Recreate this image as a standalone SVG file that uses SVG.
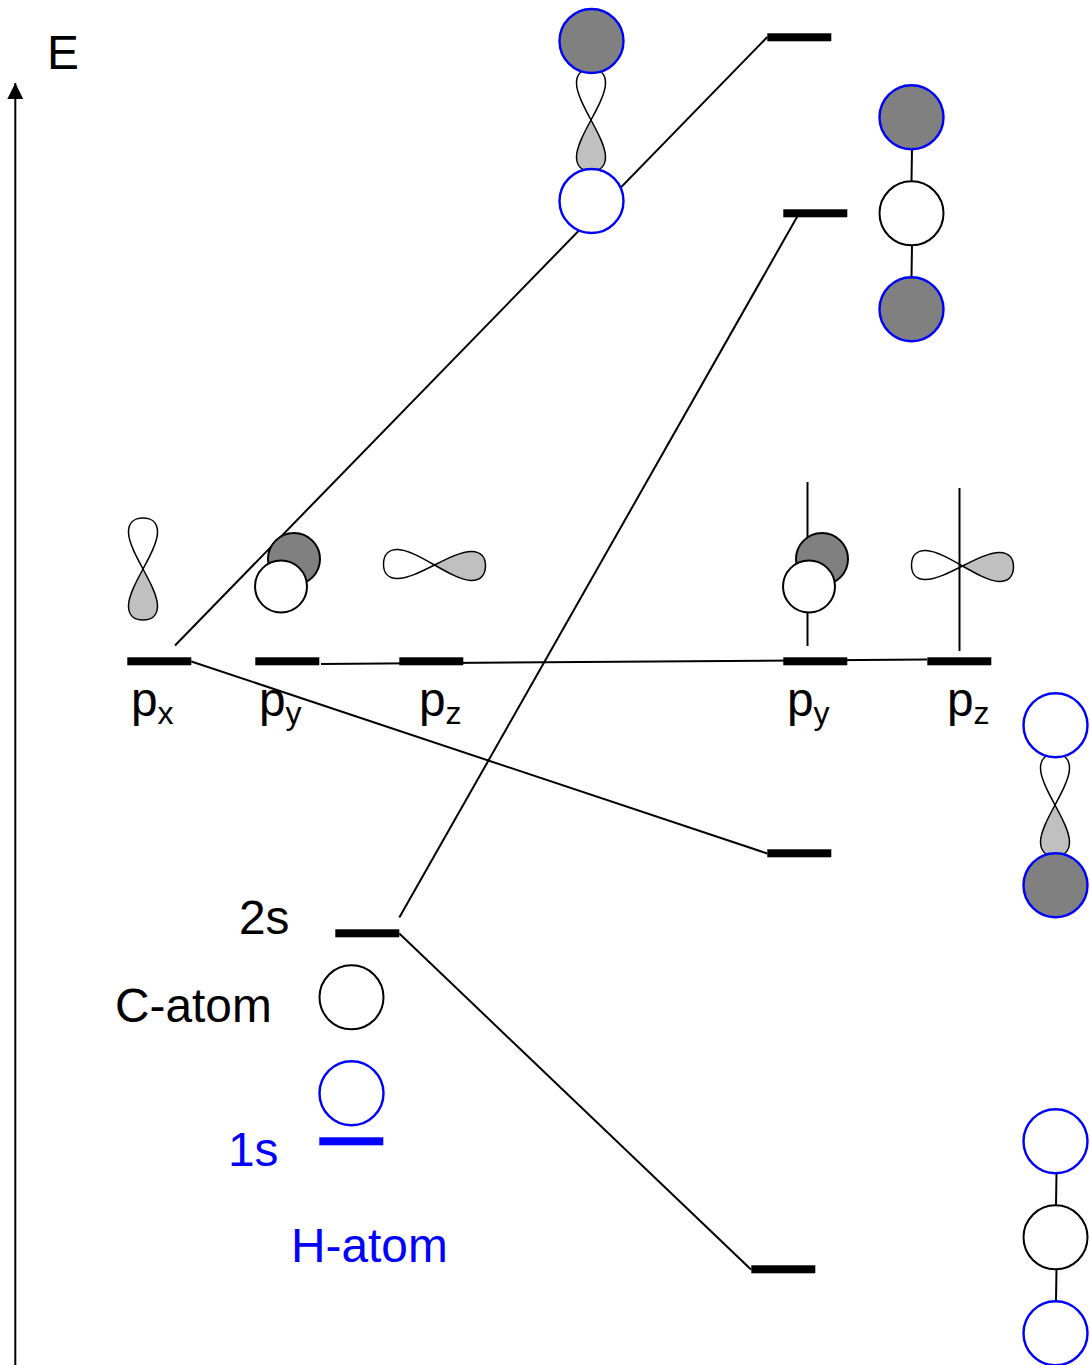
<svg xmlns="http://www.w3.org/2000/svg" xmlns:xlink="http://www.w3.org/1999/xlink" width="1090" height="1365" viewBox="0 0 1090 1365">
<style>
text{font-family:"Liberation Sans",Arial,sans-serif;font-size:47.800px;fill:#000}
tspan.s{font-size:32px}
.b{fill:#0000ff}
.lv{fill:#000}
.lvb{fill:#0000ff}
.c{fill:none;stroke:#000;stroke-width:2}
.ow{fill:#fff;stroke:#000;stroke-width:2}
.od{fill:#808080;stroke:#000;stroke-width:2}
.hw{fill:#fff;stroke:#0000ff;stroke-width:2.400}
.hd{fill:#808080;stroke:#0000ff;stroke-width:2.400}
.lu{fill:#fff;stroke:#000;stroke-width:1.500}
.ll{fill:#c0c0c0;stroke:#000;stroke-width:1.500}
</style>
<defs>
<g id="lobes">
<path class="lu" d="M0,0C-7,-13 -14.500,-27 -14.500,-37C-14.500,-46 -9,-51 0,-51C9,-51 14.500,-46 14.500,-37C14.500,-27 7,-13 0,0Z"/>
<path class="ll" d="M0,0C-7,13 -14.500,27 -14.500,37C-14.500,46 -9,51 0,51C9,51 14.500,46 14.500,37C14.500,27 7,13 0,0Z"/>
</g>
<marker id="arr" markerUnits="userSpaceOnUse" markerWidth="16" markerHeight="16" refX="16" refY="8" orient="auto"><path d="M0,0L16,8L0,16Z" fill="#000"/></marker>
</defs>
<g id="connectors">
<line class="c" x1="15.300" y1="1365" x2="15.300" y2="83" marker-end="url(#arr)"/>
<line class="c" x1="175" y1="645.500" x2="767.300" y2="37"/>
<line class="c" x1="399.300" y1="917.500" x2="799" y2="213.500"/>
<line class="c" x1="399.300" y1="933.500" x2="751" y2="1269.500"/>
<line class="c" x1="191.300" y1="661.500" x2="767.300" y2="853.500"/>
<line class="c" x1="321" y1="664" x2="927" y2="659.500"/>
<line class="c" x1="807.500" y1="482" x2="807.500" y2="646"/>
<line class="c" x1="912" y1="149" x2="911.500" y2="181"/>
<line class="c" x1="912" y1="245" x2="911.500" y2="277"/>
<line class="c" x1="1056.500" y1="1173" x2="1056" y2="1205"/>
<line class="c" x1="1056.500" y1="1269" x2="1056" y2="1301"/>
</g>
<g id="axis-label"><text x="47" y="69">E</text></g>
<g id="level-px"><rect class="lv" x="127.300" y="657.300" width="64" height="8"/><text x="131" y="716">p<tspan class="s" dy="8">x</tspan></text><use xlink:href="#lobes" href="#lobes" x="143" y="569"/></g>
<g id="level-py"><rect class="lv" x="255.300" y="657.300" width="64" height="8"/><text x="259" y="716">p<tspan class="s" dy="8">y</tspan></text><circle class="od" cx="294" cy="559" r="26"/><circle class="ow" cx="281" cy="586.500" r="26"/></g>
<g id="level-pz"><rect class="lv" x="399.300" y="657.300" width="64" height="8"/><text x="419" y="716">p<tspan class="s" dy="8">z</tspan></text><use xlink:href="#lobes" href="#lobes" transform="translate(434.500,565) rotate(-88.500)"/></g>
<g id="level-py2"><rect class="lv" x="783.300" y="657.300" width="64" height="8"/><text x="787" y="716">p<tspan class="s" dy="8">y</tspan></text><circle class="od" cx="822" cy="559" r="26"/><circle class="ow" cx="809" cy="586.500" r="26"/></g>
<g id="level-pz2"><use xlink:href="#lobes" href="#lobes" transform="translate(962.500,566) rotate(-88.500)"/><line class="c" x1="959.500" y1="488" x2="959.500" y2="651"/><rect class="lv" x="927.300" y="657.300" width="64" height="8"/><text x="947" y="716">p<tspan class="s" dy="8">z</tspan></text></g>
<g id="level-2s"><rect class="lv" x="335.300" y="929.300" width="64" height="8"/><text x="239" y="934">2s</text></g>
<g id="c-atom"><text x="115" y="1022">C-atom</text><circle class="ow" cx="351.500" cy="997.300" r="32"/></g>
<g id="h-1s"><circle class="hw" cx="351.500" cy="1093.300" r="32"/><rect class="lvb" x="319.300" y="1137.300" width="64" height="8"/><text class="b" x="228" y="1166">1s</text></g>
<g id="h-atom"><text class="b" x="291" y="1262">H-atom</text></g>
<g id="mo1"><rect class="lv" x="767.300" y="33.300" width="64" height="8"/><use xlink:href="#lobes" href="#lobes" x="591" y="120"/><circle class="hd" cx="591.500" cy="41" r="32"/><circle class="hw" cx="591.500" cy="201" r="32"/></g>
<g id="mo2"><rect class="lv" x="783.300" y="209.300" width="64" height="8"/><circle class="hd" cx="911.500" cy="117.300" r="32"/><circle class="ow" cx="911.500" cy="213.300" r="32"/><circle class="hd" cx="911.500" cy="309.300" r="32"/></g>
<g id="mo3"><rect class="lv" x="767.300" y="849.300" width="64" height="8"/><use xlink:href="#lobes" href="#lobes" x="1055" y="805"/><circle class="hw" cx="1055.500" cy="725.300" r="32"/><circle class="hd" cx="1055.500" cy="885.300" r="32"/></g>
<g id="mo4"><rect class="lv" x="751.300" y="1265.300" width="64" height="8"/><circle class="hw" cx="1055.500" cy="1141.300" r="32"/><circle class="ow" cx="1055.500" cy="1237.300" r="32"/><circle class="hw" cx="1055.500" cy="1333.300" r="32"/></g>
</svg>
